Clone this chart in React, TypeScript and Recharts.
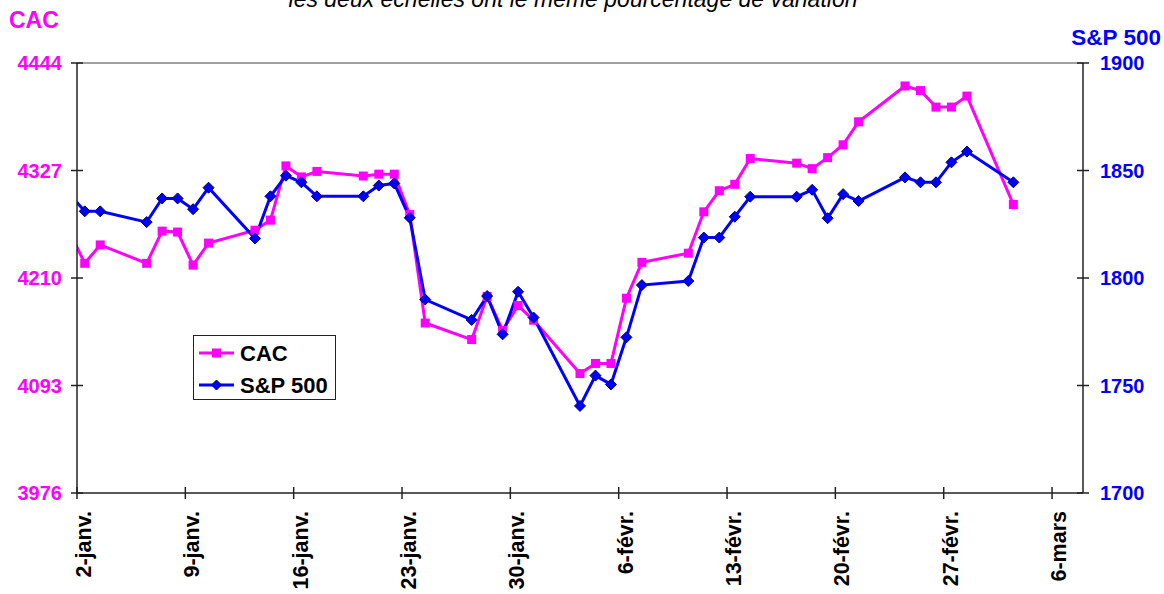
import React from 'react';
import { LineChart, Line, XAxis, YAxis, Legend, ReferenceLine } from 'recharts';

// séances (31 déc. 2013 -> 3 mars 2014)
const dates = [
  '2013-12-31', '2014-01-02', '2014-01-03', '2014-01-06', '2014-01-07', '2014-01-08',
  '2014-01-09', '2014-01-10', '2014-01-13', '2014-01-14', '2014-01-15', '2014-01-16',
  '2014-01-17', '2014-01-20', '2014-01-21', '2014-01-22', '2014-01-23', '2014-01-24',
  '2014-01-27', '2014-01-28', '2014-01-29', '2014-01-30', '2014-01-31', '2014-02-03',
  '2014-02-04', '2014-02-05', '2014-02-06', '2014-02-07', '2014-02-10', '2014-02-11',
  '2014-02-12', '2014-02-13', '2014-02-14', '2014-02-17', '2014-02-18', '2014-02-19',
  '2014-02-20', '2014-02-21', '2014-02-24', '2014-02-25', '2014-02-26', '2014-02-27',
  '2014-02-28', '2014-03-03',
];

const cacValues = [
  4296, 4226, 4246, 4226, 4261, 4260,
  4224, 4248, 4262, 4273, 4332, 4320,
  4326, 4321, 4323, 4323, 4279, 4161,
  4143, 4190, 4153, 4180, 4164, 4106,
  4117, 4117, 4188, 4227, 4237, 4282,
  4305, 4312, 4340, 4335, 4329, 4341,
  4355, 4380, 4419, 4414, 4396, 4396,
  4408, 4290,
];

const spValues = [
  1847.6, 1831, 1831, 1826, 1837, 1837,
  1832, 1842, 1818.4, 1838, 1847.6, 1844.5,
  1838, 1838, 1843, 1844, 1828, 1790,
  1780.5, 1791.6, 1773.8, 1793.6, 1781.6, 1740.5,
  1754.6, 1750.5, 1772.4, 1796.7, 1798.6, 1818.8,
  1818.8, 1828.5, 1837.8, 1837.8, 1841, 1827.8,
  1839, 1835.8, 1846.8, 1844.5, 1844.5, 1853.8,
  1858.8, 1844.5,
];

const xTickLabels = [
  '2-janv.', '9-janv.', '16-janv.', '23-janv.', '30-janv.',
  '6-févr.', '13-févr.', '20-févr.', '27-févr.', '6-mars',
];
const cacTicks = [3976, 4093, 4210, 4327, 4444];
const spTicks = [1700, 1750, 1800, 1850, 1900];

const FONT = '"Liberation Sans", Arial, sans-serif';
const PINK = '#FF00FF';
const BLUE = '#0000FF';
const AXIS = '#222';

const DAY = 86400000;
const origin = Date.UTC(2014, 0, 2);
// jour depuis le 2 janv., point placé au milieu de la journée
const dayOf = (s: string) => (Date.parse(s) - origin) / DAY + 0.5;

const data = dates.map((d, i) => ({ x: dayOf(d), cac: cacValues[i], sp: spValues[i] }));
const xTicks = xTickLabels.map((_, i) => i * 7);

const LeftTick = (props: any) => {
  const { x, y, payload } = props;
  return (
    <g>
      <line x1={x - 6} x2={x + 6} y1={y} y2={y} stroke={AXIS} strokeWidth={1.5} />
      <text x={x - 15} y={y} textAnchor="end" dominantBaseline="central"
        fill={PINK} fontWeight="bold" fontSize={20} fontFamily={FONT}>
        {payload.value}
      </text>
    </g>
  );
};

const RightTick = (props: any) => {
  const { x, y, payload } = props;
  return (
    <g>
      <line x1={x - 6} x2={x + 6} y1={y} y2={y} stroke={AXIS} strokeWidth={1.5} />
      <text x={x + 17} y={y} textAnchor="start" dominantBaseline="central"
        fill={BLUE} fontWeight="bold" fontSize={20} fontFamily={FONT}>
        {payload.value}
      </text>
    </g>
  );
};

const BottomTick = (props: any) => {
  const { x, y, payload } = props;
  const label = xTickLabels[Math.round(payload.value / 7)];
  const tx = x + 7;
  const ty = y + 18;
  return (
    <g>
      <line x1={x} x2={x} y1={y - 6} y2={y + 6} stroke={AXIS} strokeWidth={1.5} />
      <text x={tx} y={ty} transform={`rotate(-90 ${tx} ${ty})`} textAnchor="end"
        dominantBaseline="central" fill="#000" fontWeight="bold" fontSize={21.5} fontFamily={FONT}>
        {label}
      </text>
    </g>
  );
};

const SquareDot = (props: any) => {
  const { cx, cy } = props;
  if (cx == null || cy == null) return null;
  return <rect x={cx - 4.5} y={cy - 4.5} width={9} height={9} fill={PINK} />;
};

const DiamondDot = (props: any) => {
  const { cx, cy } = props;
  if (cx == null || cy == null) return null;
  const r = 5.5;
  return (
    <polygon
      points={`${cx},${cy - r} ${cx + r},${cy} ${cx},${cy + r} ${cx - r},${cy}`}
      fill={BLUE} stroke="#000066" strokeWidth={1}
    />
  );
};

const LegendBox = () => (
  <div style={{ width: 143, height: 65, border: '1px solid #222', boxSizing: 'border-box', background: '#fff' }}>
    <svg width={141} height={63}>
      <line x1={5} x2={40} y1={17} y2={17} stroke={PINK} strokeWidth={3} />
      <rect x={18} y={12.5} width={9} height={9} fill={PINK} />
      <text x={46} y={17} dominantBaseline="central" fontWeight="bold" fontSize={22} fontFamily={FONT}>CAC</text>
      <line x1={5} x2={40} y1={49} y2={49} stroke={BLUE} strokeWidth={3} />
      <polygon points="22.5,44 27.5,49 22.5,54 17.5,49" fill={BLUE} stroke="#000066" strokeWidth={1} />
      <text x={46} y={49} dominantBaseline="central" fontWeight="bold" fontSize={22} fontFamily={FONT}>S&amp;P 500</text>
    </svg>
  </div>
);

export default function App() {
  return (
    <div style={{ position: 'absolute', left: 0, top: 0, width: 1164, height: 594, background: '#fff', fontFamily: FONT }}>
      <LineChart width={1164} height={594} data={data} margin={{ top: 63, right: 0, bottom: 0, left: 0 }}>
        <XAxis
          type="number" dataKey="x" domain={[0, 65]} ticks={xTicks} interval={0}
          allowDataOverflow height={101} tickSize={0} tickMargin={0}
          tick={<BottomTick />} axisLine={{ stroke: AXIS, strokeWidth: 1.5 }} tickLine={false}
        />
        <YAxis
          yAxisId="left" domain={[3976, 4444]} ticks={cacTicks} interval={0} allowDataOverflow
          width={77} tickSize={0} tickMargin={0} tick={<LeftTick />}
          axisLine={{ stroke: AXIS, strokeWidth: 1.5 }} tickLine={false}
        />
        <YAxis
          yAxisId="right" orientation="right" domain={[1700, 1900]} ticks={spTicks} interval={0}
          allowDataOverflow width={81} tickSize={0} tickMargin={0} tick={<RightTick />}
          axisLine={{ stroke: AXIS, strokeWidth: 1.5 }} tickLine={false}
        />
        <ReferenceLine yAxisId="left" y={4444} stroke="#808080" strokeWidth={1.5} />
        <Legend
          layout="vertical" align="center" verticalAlign="middle"
          content={<LegendBox />}
          wrapperStyle={{ position: 'absolute', left: 193, top: 335, width: 143, height: 65 }}
        />
        <Line
          yAxisId="left" type="linear" dataKey="cac" name="CAC" stroke={PINK} strokeWidth={3}
          dot={<SquareDot />} activeDot={false} isAnimationActive={false}
        />
        <Line
          yAxisId="right" type="linear" dataKey="sp" name="S&P 500" stroke={BLUE} strokeWidth={3}
          dot={<DiamondDot />} activeDot={false} isAnimationActive={false}
        />
      </LineChart>
      <svg width={1164} height={594} style={{ position: 'absolute', left: 0, top: 0, pointerEvents: 'none' }}>
        <text x={573} y={7} textAnchor="middle" fontStyle="italic" fontSize={23} fontFamily={FONT} fill="#000">
          les deux échelles ont le même pourcentage  de variation
        </text>
        <text x={9} y={28} fontWeight="bold" fontSize={23} fontFamily={FONT} fill={PINK}>CAC</text>
        <text x={1161} y={45} textAnchor="end" fontWeight="bold" fontSize={22.5} fontFamily={FONT} fill={BLUE}>S&amp;P 500</text>
      </svg>
    </div>
  );
}
